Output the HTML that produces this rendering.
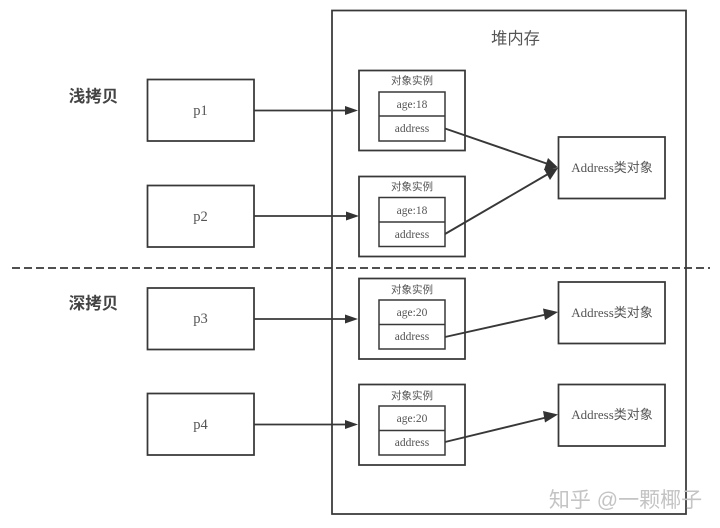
<!DOCTYPE html>
<html>
<head>
<meta charset="utf-8">
<style>
html,body{margin:0;padding:0;background:#fff;width:720px;height:528px;overflow:hidden}
svg{display:block}
text{font-family:"Liberation Serif","Noto Serif CJK SC",serif;fill:#555;text-anchor:middle}
.b{fill:none;stroke:#383838;stroke-width:1.75}
.l{fill:none;stroke:#383838;stroke-width:1.7}
.d{fill:none;stroke:#383838;stroke-width:1.9}
.t{stroke:#383838;stroke-width:1.5;fill:none}
.a{fill:#333;stroke:none}
.h{font-family:"Liberation Sans","Noto Sans CJK SC",sans-serif;font-weight:700;font-size:16.500px;fill:#444}
</style>
</head>
<body>
<svg width="720" height="528" viewBox="0 0 720 528" xmlns="http://www.w3.org/2000/svg">
<rect width="720" height="528" fill="#fff"/>
<rect class="b" x="332" y="10.500" width="354" height="503.500"/>
<line x1="12" y1="268" x2="710" y2="268" stroke="#383838" stroke-width="1.700" stroke-dasharray="8,4"/>
<text x="515.500" y="44" font-size="16.300" style="font-family:'Liberation Sans','Noto Sans CJK SC',sans-serif">堆内存</text>
<text class="h" x="93.500" y="102">浅拷贝</text>
<text class="h" x="93.500" y="309">深拷贝</text>

<rect class="b" x="147.500" y="79.500" width="106.500" height="61.500"/>
<rect class="b" x="147.500" y="185.500" width="106.500" height="61.500"/>
<rect class="b" x="147.500" y="288" width="106.500" height="61.500"/>
<rect class="b" x="147.500" y="393.500" width="106.500" height="61.500"/>
<text x="200.500" y="115" font-size="14.500">p1</text>
<text x="200.500" y="221" font-size="14.500">p2</text>
<text x="200.500" y="323" font-size="14.500">p3</text>
<text x="200.500" y="429" font-size="14.500">p4</text>

<g>
<rect class="b" x="359" y="70.500" width="106" height="80"/>
<rect class="t" x="379" y="92" width="66" height="49"/>
<line class="t" x1="379" y1="116" x2="445" y2="116"/>
<text x="412" y="84" font-size="10.500" style="font-family:'Liberation Sans','Noto Sans CJK SC',sans-serif">对象实例</text>
<text x="412" y="108" font-size="11.500">age:18</text>
<text x="412" y="132" font-size="11.500">address</text>
</g>
<g>
<rect class="b" x="359" y="176.500" width="106" height="80"/>
<rect class="t" x="379" y="197.500" width="66" height="49"/>
<line class="t" x1="379" y1="222" x2="445" y2="222"/>
<text x="412" y="190" font-size="10.500" style="font-family:'Liberation Sans','Noto Sans CJK SC',sans-serif">对象实例</text>
<text x="412" y="214" font-size="11.500">age:18</text>
<text x="412" y="238" font-size="11.500">address</text>
</g>
<g>
<rect class="b" x="359" y="278.500" width="106" height="80.500"/>
<rect class="t" x="379" y="300" width="66" height="49"/>
<line class="t" x1="379" y1="324.500" x2="445" y2="324.500"/>
<text x="412" y="293" font-size="10.500" style="font-family:'Liberation Sans','Noto Sans CJK SC',sans-serif">对象实例</text>
<text x="412" y="316" font-size="11.500">age:20</text>
<text x="412" y="340" font-size="11.500">address</text>
</g>
<g>
<rect class="b" x="359" y="384.500" width="106" height="80.500"/>
<rect class="t" x="379" y="406" width="66" height="49"/>
<line class="t" x1="379" y1="430.500" x2="445" y2="430.500"/>
<text x="412" y="399" font-size="10.500" style="font-family:'Liberation Sans','Noto Sans CJK SC',sans-serif">对象实例</text>
<text x="412" y="422" font-size="11.500">age:20</text>
<text x="412" y="446" font-size="11.500">address</text>
</g>

<rect class="b" x="558.500" y="137" width="106.500" height="61.500"/>
<rect class="b" x="558.500" y="282" width="106.500" height="61.500"/>
<rect class="b" x="558.500" y="384.500" width="106.500" height="61.500"/>
<text x="612" y="172" font-size="13">Address<tspan style="font-family:'Noto Sans CJK SC',sans-serif">类对象</tspan></text>
<text x="612" y="317" font-size="13">Address<tspan style="font-family:'Noto Sans CJK SC',sans-serif">类对象</tspan></text>
<text x="612" y="419" font-size="13">Address<tspan style="font-family:'Noto Sans CJK SC',sans-serif">类对象</tspan></text>

<line class="l" x1="254" y1="110.500" x2="348" y2="110.500"/><polygon class="a" points="358,110.500 345,106 345,115"/>
<line class="l" x1="254" y1="216" x2="350" y2="216"/><polygon class="a" points="359,216 346,211.500 346,220.500"/>
<line class="l" x1="254" y1="319" x2="348" y2="319"/><polygon class="a" points="358,319 345,314.500 345,323.500"/>
<line class="l" x1="254" y1="424.500" x2="348" y2="424.500"/><polygon class="a" points="358,424.500 345,420 345,429"/>

<line class="d" x1="445" y1="128.500" x2="548" y2="164"/><polygon class="a" points="558,167.500 544,170 548,158"/>
<line class="d" x1="445" y1="234" x2="548" y2="174"/><polygon class="a" points="558,168 550,180 544,169"/>
<line class="d" x1="445" y1="337" x2="546" y2="314.500"/><polygon class="a" points="558,312 545,320 543,308.500"/>
<line class="d" x1="445" y1="442" x2="546" y2="417.500"/><polygon class="a" points="558,414.500 545,422.500 543,411"/>

<text x="625.500" y="507" font-size="21" style="font-family:'Liberation Sans','Noto Sans CJK SC',sans-serif;fill:#c4c4c4">知乎 @一颗椰子</text>
</svg>
</body>
</html>
